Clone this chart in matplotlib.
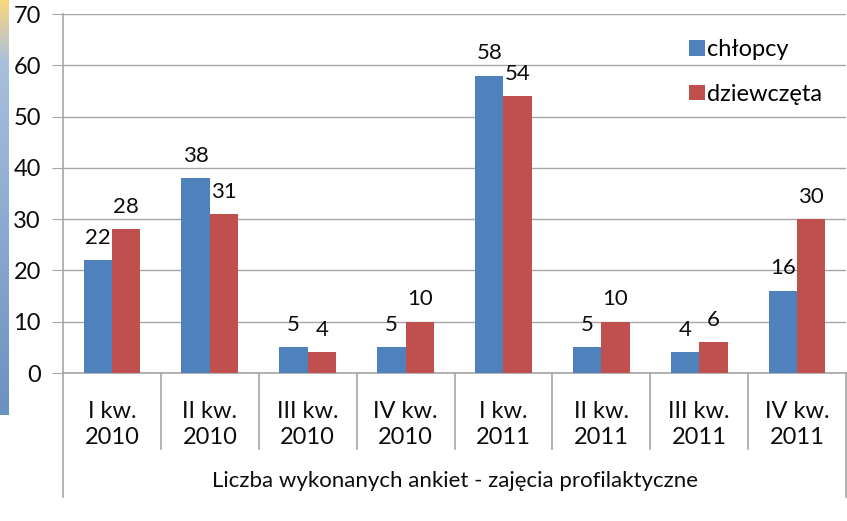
import matplotlib.pyplot as plt
import numpy as np
from matplotlib.lines import Line2D
import matplotlib.transforms as mtransforms

# dane z wykresu
kwartaly = ["I kw.\n2010", "II kw.\n2010", "III kw.\n2010", "IV kw.\n2010",
            "I kw.\n2011", "II kw.\n2011", "III kw.\n2011", "IV kw.\n2011"]
chlopcy = [22, 38, 5, 5, 58, 5, 4, 16]
dziewczeta = [28, 31, 4, 10, 54, 10, 6, 30]
serie = ["chłopcy", "dziewczęta"]
opis_osi = "Liczba wykonanych ankiet - zajęcia profilaktyczne"

W, H = 847, 521
plt.rcParams['font.family'] = ['Lato', 'DejaVu Sans']
GRAY = '#A6A6A6'
TXT = '#0d0d0d'

fig = plt.figure(figsize=(W / 100, H / 100), dpi=100)

# tlo: pasek gradientu po lewej stronie
bg = fig.add_axes([0, 0, 1, 1])
bg.set_xlim(0, W)
bg.set_ylim(H, 0)
bg.axis('off')
t = np.linspace(0, 1, 200)[:, None]
top = np.array([0.98, 0.84, 0.50])
mid = np.array([0.66, 0.75, 0.87])
bot = np.array([0.42, 0.57, 0.75])
grad = np.where(t < 0.15, top + (mid - top) * (t / 0.15),
                mid + (bot - mid) * ((t - 0.15) / 0.85))
bg.imshow(grad[:, None, :].repeat(2, axis=1), extent=[0, 9, 415, 0], aspect='auto')

ax = fig.add_axes([63 / W, (H - 373) / H, (846 - 63) / W, (373 - 14) / H])
x = np.arange(len(kwartaly))
w = 0.29
b1 = ax.bar(x - w / 2, chlopcy, w, color='#4F81BD', label=serie[0], zorder=3)
b2 = ax.bar(x + w / 2, dziewczeta, w, color='#C0504D', label=serie[1], zorder=3)
ax.bar_label(b1, padding=9, fontsize=16, color=TXT)
ax.bar_label(b2, padding=9, fontsize=16, color=TXT)

ax.set_ylim(0, 70)
ax.set_xlim(-0.5, len(kwartaly) - 0.5)
ax.set_yticks(range(0, 71, 10))
ax.yaxis.grid(True, color=GRAY, lw=1)
ax.set_axisbelow(True)
for s in ['top', 'right']:
    ax.spines[s].set_visible(False)
for s in ['left', 'bottom']:
    ax.spines[s].set_color(GRAY)
    ax.spines[s].set_linewidth(1.2)
ax.tick_params(axis='y', length=8, color=GRAY, labelsize=17, pad=8, labelcolor=TXT)
ax.set_xticks(x)
ax.set_xticklabels(kwartaly, fontsize=17, color=TXT, linespacing=1.3)
ax.tick_params(axis='x', length=0, pad=20)

# linie podzialu osi kategorii
ph = 373 - 14
trans = mtransforms.blended_transform_factory(ax.transData, ax.transAxes)
for xs in np.arange(0.5, len(kwartaly) - 0.5):
    ax.add_line(Line2D([xs, xs], [0, -76 / ph], transform=trans, color=GRAY,
                       lw=1.2, clip_on=False))
for xs in [-0.5, len(kwartaly) - 0.5]:
    ax.add_line(Line2D([xs, xs], [0, -124 / ph], transform=trans, color=GRAY,
                       lw=1.2, clip_on=False))
ax.text(3.5, -108 / ph, opis_osi, transform=trans, ha='center', va='center',
        fontsize=16, color=TXT)

ax.legend(loc='upper left', bbox_to_anchor=(668 / W, 1 - 18 / H),
          bbox_transform=fig.transFigure, frameon=False, fontsize=17,
          handlelength=0.65, handleheight=0.65, handletextpad=0.1,
          labelspacing=1.0)

fig.savefig('out.png', dpi=100)
